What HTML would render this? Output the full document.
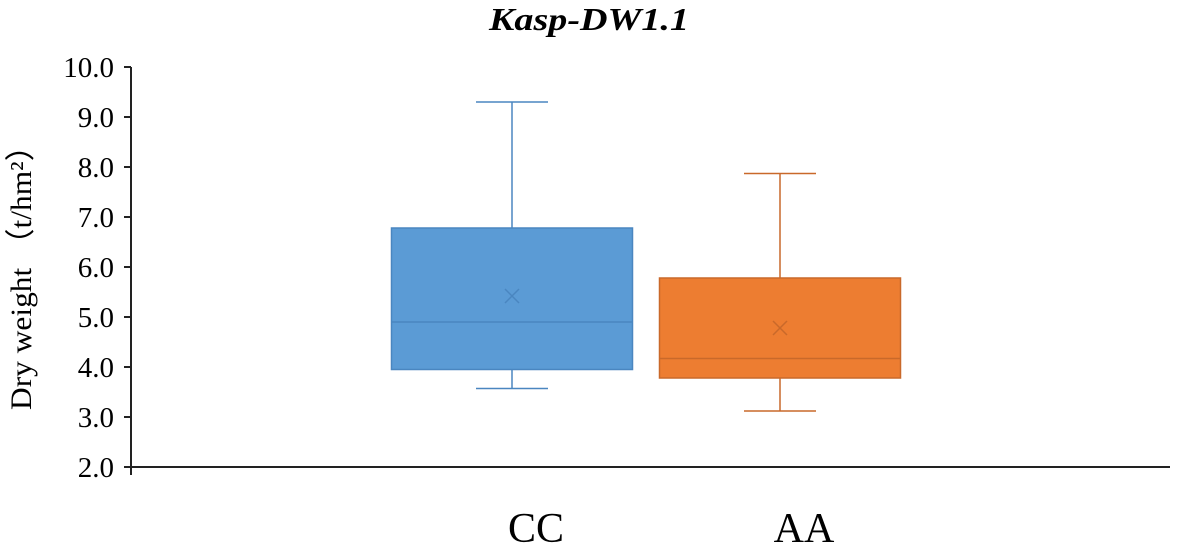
<!DOCTYPE html>
<html><head><meta charset="utf-8"><style>
html,body{margin:0;padding:0;background:#fff;}
svg{display:block;font-family:"Liberation Serif",serif;}
</style></head><body>
<svg id="chart" width="1181" height="548" viewBox="0 0 1181 548" xmlns="http://www.w3.org/2000/svg">
<text x="589" y="30" text-anchor="middle" font-size="32" font-weight="bold" font-style="italic" textLength="200" lengthAdjust="spacingAndGlyphs">Kasp-DW1.1</text>
<text transform="translate(31,270) rotate(-90)" text-anchor="middle" font-size="30" textLength="280" lengthAdjust="spacingAndGlyphs">Dry weight （t/hm²）</text>
<g id="axes"></g>
<g id="boxes"></g>
</svg>
<script>
const categories = ["CC", "AA"];
const mins = [3.57, 3.12];
const q1s = [3.95, 3.78];
const medians = [4.9, 4.17];
const q3s = [6.78, 5.78];
const maxs = [9.3, 7.87];
const means = [5.42, 4.78];
const yTicks = [2.0, 3.0, 4.0, 5.0, 6.0, 7.0, 8.0, 9.0, 10.0];
const fills = ["#5b9bd5", "#ed7d31"];
const strokes = ["#4a86c0", "#c9692a"];

const NS = "http://www.w3.org/2000/svg";
const y = v => 467 - (v - 2) * 50;
const xCenter = i => 512 + i * 268;
const boxW = 241;
const axes = document.getElementById('axes');
const boxes = document.getElementById('boxes');
function mk(tag, attrs, parent){const e=document.createElementNS(NS,tag);for(const k in attrs)e.setAttribute(k,attrs[k]);parent.appendChild(e);return e;}

let l = mk('line',{x1:131,y1:y(10),x2:131,y2:y(2)+8,stroke:'#222','stroke-width':2},axes);


l = mk('line',{x1:124,y1:y(2),x2:1170,y2:y(2),stroke:'#222','stroke-width':2},axes);


yTicks.forEach(t=>{
  const tk = mk('line',{x1:124,y1:y(t),x2:131,y2:y(t),stroke:'#222','stroke-width':2},axes);
  
  
  const tx = mk('text',{x:114,y:y(t)+10,'text-anchor':'end','font-size':29},axes);
  tx.textContent = t.toFixed(1);
  
  
});
categories.forEach((c,i)=>{
  const cx = xCenter(i), x0 = cx - boxW/2;
  const g = mk('g',{},boxes);
  
  
  mk('line',{x1:cx,y1:y(maxs[i]),x2:cx,y2:y(q3s[i]),stroke:strokes[i],'stroke-width':1.5},g);
  mk('line',{x1:cx,y1:y(q1s[i]),x2:cx,y2:y(mins[i]),stroke:strokes[i],'stroke-width':1.5},g);
  mk('line',{x1:cx-36,y1:y(maxs[i]),x2:cx+36,y2:y(maxs[i]),stroke:strokes[i],'stroke-width':1.5},g);
  mk('line',{x1:cx-36,y1:y(mins[i]),x2:cx+36,y2:y(mins[i]),stroke:strokes[i],'stroke-width':1.5},g);
  mk('rect',{x:x0,y:y(q3s[i]),width:boxW,height:y(q1s[i])-y(q3s[i]),fill:fills[i],stroke:strokes[i],'stroke-width':1.5},g);
  mk('line',{x1:x0,y1:y(medians[i]),x2:x0+boxW,y2:y(medians[i]),stroke:strokes[i],'stroke-width':1.5},g);
  const my = y(means[i]);
  mk('path',{d:`M${cx-7} ${my-7}L${cx+7} ${my+7}M${cx+7} ${my-7}L${cx-7} ${my+7}`,stroke:strokes[i],'stroke-width':1.5},g);
  const lab = mk('text',{x:cx+24,y:542,'text-anchor':'middle','font-size':42},axes);
  lab.textContent = c;
  
  
});
</script>
</body></html>
